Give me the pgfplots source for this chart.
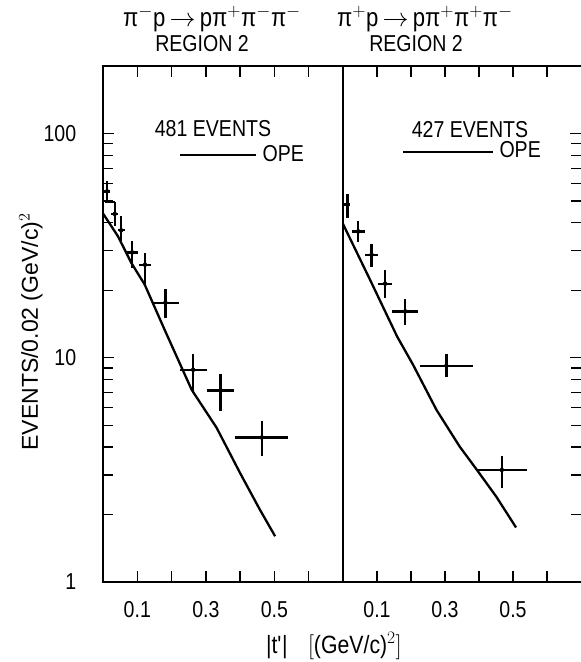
\RequirePackage{fix-cm}
\documentclass[border=0pt]{standalone}
\usepackage{pgfplots}
\pgfplotsset{compat=1.18}
\usepackage{fontspec}
\setmainfont{Liberation Sans}[FakeStretch=0.85]
\newfontfamily\ylabfont{Liberation Sans}
\pgfplotsset{
  every axis/.append style={
    scale only axis, height=516pt,
    xtick={0.1,0.2,0.3,0.4,0.5,0.6},
    xticklabels={0.1,,0.3,,0.5,},
    ytick={1,10,100},
    minor ytick={2,3,4,5,6,7,8,9,20,30,40,50,60,70,80,90},
    tick align=inside,
    major tick length=11pt, minor tick length=10pt,
    every tick/.style={line width=1.3pt, black},
    axis line style={line width=1.4pt},
    tick label style={font=\fontsize{23pt}{27pt}\selectfont},
    xticklabel style={yshift=-12pt},
    yticklabel style={xshift=-19pt},
    legend style={draw=none, fill=none, inner sep=0pt, anchor=west,
      font=\fontsize{23pt}{27pt}\selectfont,
      /tikz/every odd column/.append style={column sep=3pt}},
  },
}
\begin{document}
\fontsize{23pt}{27pt}\selectfont
\begin{tikzpicture}
% ---------- left panel ----------
\begin{axis}[ymode=log, ymin=1, ymax=200, xmin=0, xmax=0.7,
  anchor=south west, at={(103pt,80pt)}, width=240pt, ytick pos=left,
  yticklabels={1,10,100},
  legend style={at={(0.317,0.8275)}},
  legend image code/.code={\draw[line width=2.3pt] (0pt,0pt) -- (76pt,0pt);}]
\addplot[only marks, mark=none, forget plot,
  error bars/x dir=both, error bars/x explicit,
  error bars/y dir=both, error bars/y explicit,
  error bars/error mark=none,
  error bars/error bar style={line width=2.3pt, black, solid}] coordinates {
 (0.012,55.2) += (0.009,6.2) -= (0.009,5.3)
 (0.034,43.8) += (0.010,5.8) -= (0.010,5.3)
 (0.053,37.0) += (0.010,5.7) -= (0.010,4.0)
 (0.085,29.5) += (0.017,3.5) -= (0.017,4.4)
 (0.1225,26.0) += (0.0185,3.3) -= (0.0185,4.8)
 (0.182,17.6) += (0.039,2.7) -= (0.039,2.6)
 (0.263,8.84) += (0.039,1.56) -= (0.039,1.88)
 (0.343,7.14) += (0.040,1.34) -= (0.040,1.38)
 (0.463,4.41) += (0.078,0.79) -= (0.078,0.78)
};
\addplot[black, line width=2pt, forget plot] coordinates {(0.005,49.6) (0.034,49.6)};
\addplot[black, line width=2.3pt] coordinates {
 (0,44) (0.0437,34.8) (0.0825,26.5) (0.1216,21.2) (0.180,13.3)
 (0.2586,7.2) (0.3315,4.87) (0.3994,3.07) (0.4577,2.10) (0.502,1.60)
};
\addlegendentry{OPE}
\end{axis}
% ---------- right panel ----------
\begin{axis}[ymode=log, ymin=1, ymax=200, xmin=0, xmax=0.7,
  anchor=south west, at={(343pt,80pt)}, width=238pt, ytick pos=right,
  yticklabels={,,},
  separate axis lines, y axis line style={draw=none},
  legend style={at={(0.248,0.834)}},
  legend image code/.code={\draw[line width=2.3pt] (0pt,0pt) -- (90pt,0pt);}]
\addplot[only marks, mark=none, forget plot,
  error bars/x dir=both, error bars/x explicit,
  error bars/y dir=both, error bars/y explicit,
  error bars/error mark=none,
  error bars/error bar style={line width=2.3pt, black, solid}] coordinates {
 (0.013,48.2) += (0.009,5.8) -= (0.009,6.2)
 (0.045,36.6) += (0.019,4.0) -= (0.019,3.9)
 (0.084,28.8) += (0.020,3.4) -= (0.020,3.4)
 (0.124,21.4) += (0.020,3.3) -= (0.020,2.9)
 (0.183,16.1) += (0.039,2.2) -= (0.039,2.1)
 (0.304,9.21) += (0.078,1.2) -= (0.078,1.0)
 (0.467,3.16) += (0.075,0.49) -= (0.075,0.54)
};
\addplot[black, line width=2.3pt] coordinates {
 (0,39.5) (0.08,22.2) (0.159,12.45) (0.206,9.31) (0.2748,5.86)
 (0.343,4.02) (0.392,3.19) (0.451,2.40) (0.509,1.75)
};
\addlegendentry{OPE}
\end{axis}
% ---------- texts ----------
\node[font=\fontsize{26pt}{30pt}\selectfont] at (212pt,643pt) {π$^-$p\,$\rightarrow$\,pπ$^+$π$^-$π$^-$};
\node[font=\fontsize{26pt}{30pt}\selectfont] at (425pt,643pt) {π$^+$p\,$\rightarrow$\,pπ$^+$π$^+$π$^-$};
\node at (202pt,618pt) {REGION 2};
\node at (416pt,618pt) {REGION 2};
\node[inner sep=0pt] at (213pt,533pt) {481 EVENTS};
\node[inner sep=0pt] at (470pt,532pt) {427 EVENTS};
\node[rotate=90] at (31pt,330pt) {\ylabfont\fontsize{23pt}{27pt}\selectfont EVENTS/0.02 (GeV/c)$^2$};
\node at (334pt,16pt) {\fontsize{25pt}{29pt}\selectfont |t\textquotesingle|\hspace{20pt}$\bigl[$(GeV/c)$^2$$\bigr]$};
\pgfresetboundingbox
\path[use as bounding box] (0pt,0pt) rectangle (581pt,662pt);
\end{tikzpicture}
\end{document}
